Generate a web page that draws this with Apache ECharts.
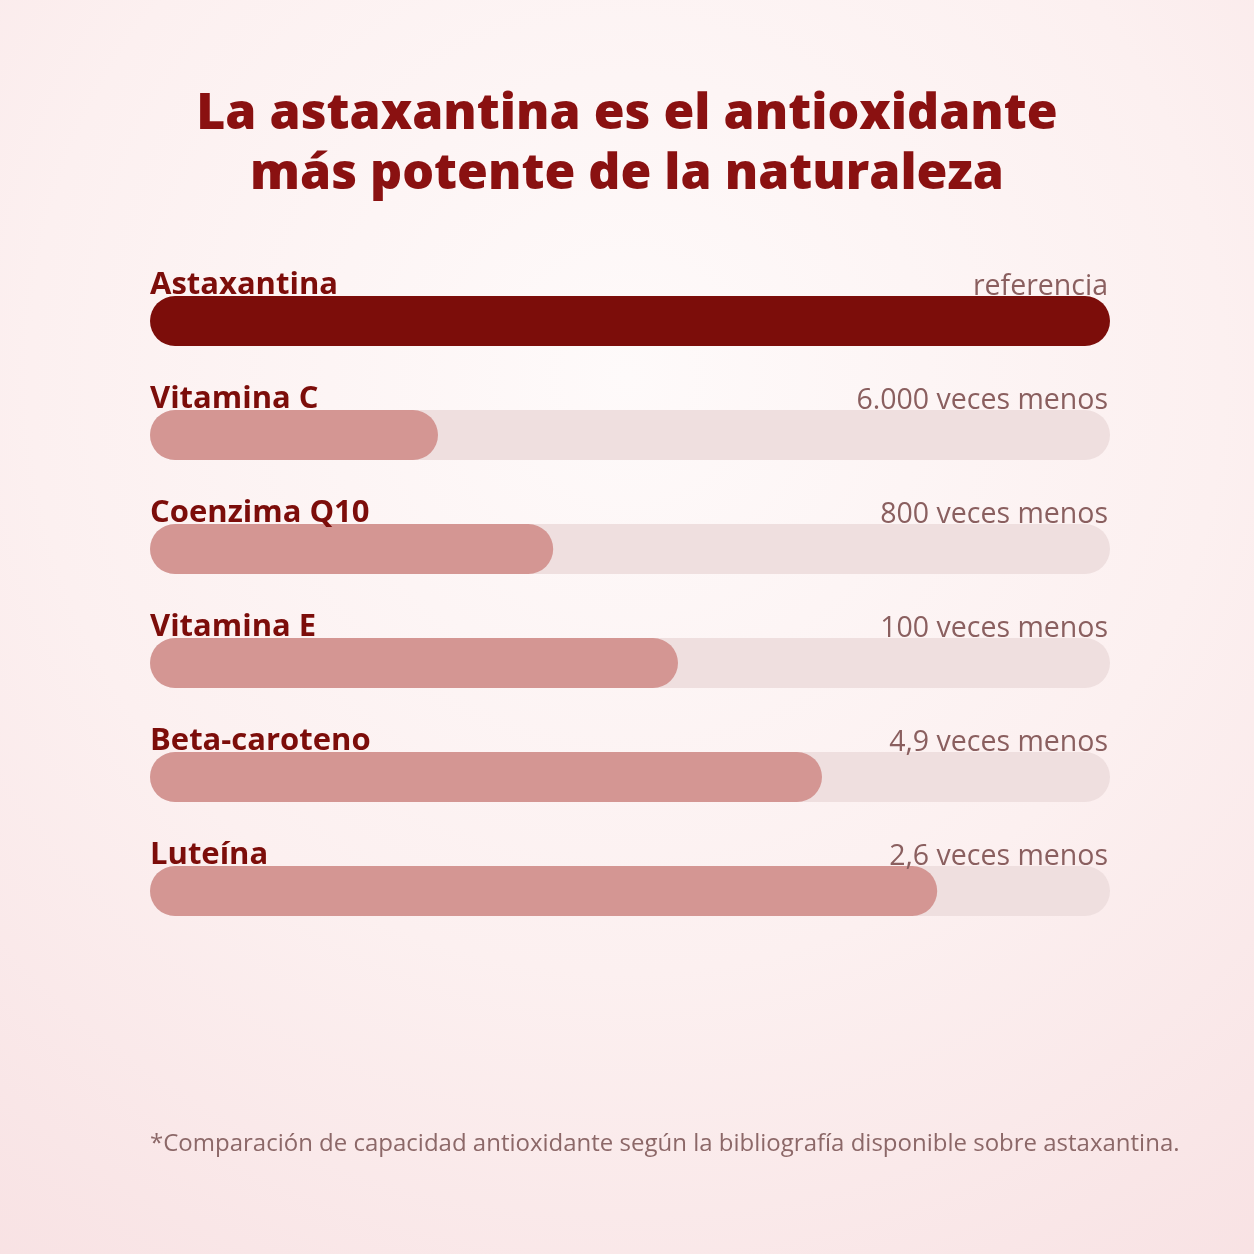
<!DOCTYPE html>
<html lang="es">
<head>
<meta charset="utf-8">
<title>Astaxantina</title>
<script src="https://cdn.jsdelivr.net/npm/echarts@6/dist/echarts.min.js"></script>
<style>
  html, body { margin: 0; padding: 0; }
  #chart { width: 1254px; height: 1254px; }
</style>
</head>
<body>
<div id="chart"></div>
<script>
// datos
var nombres = ['Astaxantina', 'Vitamina C', 'Coenzima Q10', 'Vitamina E', 'Beta-caroteno', 'Luteína'];
var notas = ['referencia', '6.000 veces menos', '800 veces menos', '100 veces menos', '4,9 veces menos', '2,6 veces menos'];
var valores = [100, 30, 42, 55, 70, 82];
var maximo = 100;

var rojo = '#7c0d0a';
var rosa = '#d49693';
var pista = '#efdfdf';
var fuente = '"Open Sans", "Noto Sans", sans-serif';

var mChart = echarts.init(document.getElementById('chart'));

var option = {
    backgroundColor: {
        type: 'radial', x: 0.5, y: 0.3, r: 0.95,
        colorStops: [
            { offset: 0, color: '#fefafa' },
            { offset: 0.5, color: '#fcf0f0' },
            { offset: 1, color: '#f7dfe1' }
        ]
    },
    title: {
        text: 'La astaxantina es el antioxidante\nmás potente de la naturaleza',
        left: 'center',
        top: 80,
        textStyle: {
            fontFamily: fuente,
            fontSize: 50,
            fontWeight: 800,
            color: '#8a1111',
            lineHeight: 60
        }
    },
    graphic: [{
        type: 'text',
        left: 150,
        top: 1132,
        style: {
            text: '*Comparación de capacidad antioxidante según la bibliografía disponible sobre astaxantina.',
            font: '24px ' + fuente,
            fill: '#8c6868'
        }
    }],
    grid: { left: 150, right: 144, top: 264, bottom: 306 },
    xAxis: { type: 'value', min: 0, max: maximo, show: false },
    yAxis: { type: 'category', data: nombres, inverse: true, show: false },
    series: [
        {
            // pista con el nombre a la izquierda
            type: 'bar',
            barWidth: 50,
            barGap: '-100%',
            silent: true,
            data: nombres.map(function (n, i) {
                return { value: maximo, itemStyle: { color: i === 0 ? 'rgba(0,0,0,0)' : pista } };
            }),
            itemStyle: { borderRadius: 25 },
            label: {
                show: true,
                position: [0, 0],
                align: 'left',
                verticalAlign: 'bottom',
                offset: [0, 5],
                formatter: function (p) { return nombres[p.dataIndex]; },
                fontFamily: fuente,
                fontSize: 31,
                fontWeight: 'bold',
                color: '#7c0d0a'
            }
        },
        {
            // nota a la derecha
            type: 'bar',
            barWidth: 50,
            barGap: '-100%',
            silent: true,
            data: notas.map(function () { return maximo; }),
            itemStyle: { color: 'rgba(0,0,0,0)' },
            label: {
                show: true,
                position: ['100%', 0],
                align: 'right',
                verticalAlign: 'bottom',
                offset: [-2, 5],
                formatter: function (p) { return notas[p.dataIndex]; },
                fontFamily: fuente,
                fontSize: 28.5,
                color: '#8a5f5f'
            }
        },
        {
            type: 'bar',
            barWidth: 50,
            barGap: '-100%',
            silent: true,
            data: valores.map(function (v, i) {
                return { value: v, itemStyle: { color: i === 0 ? rojo : rosa } };
            }),
            itemStyle: { borderRadius: 25 }
        }
    ]
};

mChart.setOption(option);
</script>
</body>
</html>
